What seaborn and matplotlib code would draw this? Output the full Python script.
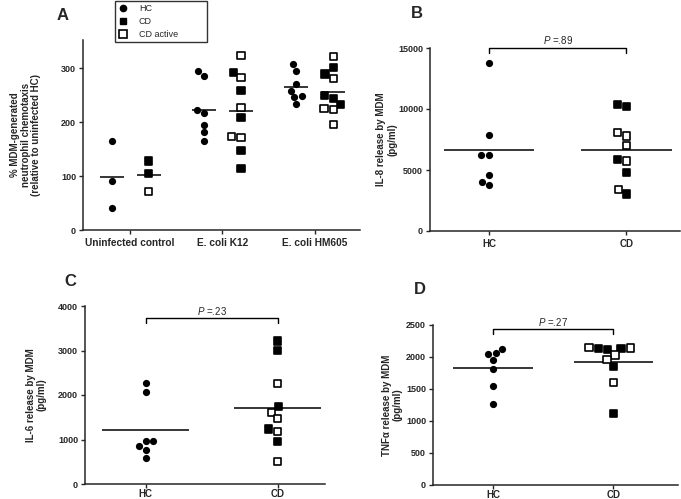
import numpy as np
import pandas as pd
import matplotlib
matplotlib.use("Agg")
import matplotlib.pyplot as plt
from matplotlib.lines import Line2D
import seaborn as sns

# ---------------- data ----------------
# Panel A: % MDM-generated neutrophil chemotaxis
conditions = ["Uninfected control", "E. coli K12", "E. coli HM605"]
a_hc = [[165, 91, 41],
        [294, 286, 222, 217, 195, 181, 164],
        [307, 295, 270, 258, 249, 246, 233]]
a_cd_filled = [[128, 104],
               [292, 259, 209, 148, 114],
               [301, 289, 249, 244, 233]]
a_cd_open = [[71],
             [323, 282, 227, 173, 172],
             [322, 281, 225, 223, 196]]

groups = ["HC", "CD"]
# Panel B: IL-8
il8_hc = [13800, 7900, 6230, 6230, 4550, 3980, 3730]
il8_cd_filled = [10340, 10200, 5870, 4770, 3040]
il8_cd_open = [8060, 7790, 6990, 5730, 3430]
# Panel C: IL-6
il6_hc = [2265, 2071, 964, 964, 845, 763, 583]
il6_cd_filled = [3215, 3006, 1742, 1234, 950]
il6_cd_open = [2265, 1615, 1465, 1174, 501]
# Panel D: TNF-alpha
tnf_hc = [2124, 2061, 2046, 1957, 1816, 1550, 1263]
tnf_cd_filled = [2135, 2135, 2114, 1853, 1117]
tnf_cd_open = [2145, 2140, 2030, 1957, 1602]

p_values = ["=.89", "=.23", "=.27"]

# ---------------- style ----------------
sns.set_style("ticks")
plt.rcParams["font.family"] = ["Liberation Sans", "DejaVu Sans"]
plt.rcParams["mathtext.fontset"] = "custom"
plt.rcParams["mathtext.rm"] = "Liberation Sans"
plt.rcParams["mathtext.it"] = "Liberation Sans:italic"
plt.rcParams["axes.linewidth"] = 1.1
plt.rcParams["xtick.major.width"] = 1.0
plt.rcParams["ytick.major.width"] = 1.0
plt.rcParams["xtick.major.size"] = 3
plt.rcParams["ytick.major.size"] = 3

fig = plt.figure(figsize=(6.81, 4.99), dpi=100)
W, H = 681, 499


def axes_px(left, right, top, bottom):
    return fig.add_axes([left / W, (H - bottom) / H, (right - left) / W, (bottom - top) / H])


palette = {"filled": "black", "open": "white"}
MS = 5.2


def style_axes(ax, ylim, yticks, ylabel, lx, ylabel_size, xpad):
    ax.set_ylim(*ylim)
    ax.set_yticks(yticks)
    ax.set_yticklabels([str(t) for t in yticks], fontsize=6.5, fontweight="bold")
    sns.despine(ax=ax)
    ax.set_xlabel("")
    ax.set_ylabel(ylabel, fontsize=ylabel_size, fontweight="bold", linespacing=1.1)
    ax.yaxis.set_label_coords(lx, 0.5)
    ax.tick_params(axis="x", pad=xpad)
    ax.tick_params(axis="y", pad=2)


# ---------------- Panel A ----------------
rows = []
for ci, cond in enumerate(conditions):
    for v in a_hc[ci]:
        rows.append((cond, ci, "HC", "filled", v))
    for v in a_cd_filled[ci]:
        rows.append((cond, ci, "CD", "filled", v))
    for v in a_cd_open[ci]:
        rows.append((cond, ci, "CD", "open", v))
dfa = pd.DataFrame(rows, columns=["condition", "cidx", "cohort", "status", "value"])
offset = {"HC": -0.2, "CD": 0.2}
dfa["xpos"] = dfa["cidx"] + dfa["cohort"].map(offset)

axA = axes_px(83, 360, 40, 230)
sns.swarmplot(data=dfa[dfa.cohort == "HC"], x="xpos", y="value", native_scale=True,
              color="black", marker="o", size=MS, linewidth=0, ax=axA)
sns.swarmplot(data=dfa[dfa.cohort == "CD"], x="xpos", y="value", native_scale=True,
              hue="status", palette=palette, hue_order=["filled", "open"],
              marker="s", size=MS, edgecolor="black", linewidth=1.2, legend=False, ax=axA)
means_a = dfa.groupby("xpos")["value"].mean()
axA.hlines(means_a.values, means_a.index - 0.13, means_a.index + 0.13, color="black", lw=1.1)
axA.set_xlim(-0.51, 2.49)
style_axes(axA, (0, 352), [0, 100, 200, 300],
           "% MDM-generated\nneutrophil chemotaxis\n(relative to uninfected HC)", -0.15, 7, 3)
axA.set_xticks(range(len(conditions)))
axA.set_xticklabels(conditions, fontsize=7.3, fontweight="bold")

handles = [Line2D([], [], marker="o", ls="none", color="black", markersize=4.5),
           Line2D([], [], marker="s", ls="none", color="black", markersize=4.3),
           Line2D([], [], marker="s", ls="none", markerfacecolor="white",
                  markeredgecolor="black", markeredgewidth=1.2, markersize=5.5)]
leg = fig.legend(handles, ["HC", "CD", "CD active"], loc="upper left",
                 bbox_to_anchor=(115 / W, 1 - 43 / H, 92 / W, 42 / H), mode="expand",
                 frameon=True, fancybox=False,
                 fontsize=6.5, handletextpad=1.3, borderpad=0.35, labelspacing=0.45,
                 handlelength=1.0, borderaxespad=0)
leg.get_frame().set_edgecolor("black")
leg.get_frame().set_linewidth(1.0)


# ---------------- Panels B-D ----------------
def two_group_panel(box, hc, cd_f, cd_o, ylim, yticks, ylabel, lx, xlim, bracket_y, tick_drop, ptxt, xpad):
    rows = [("HC", "filled", v) for v in hc] + \
           [("CD", "filled", v) for v in cd_f] + \
           [("CD", "open", v) for v in cd_o]
    df = pd.DataFrame(rows, columns=["group", "status", "value"])
    ax = axes_px(*box)
    sns.swarmplot(data=df[df.group == "HC"], x="group", y="value", order=groups,
                  color="black", marker="o", size=MS, linewidth=0, ax=ax)
    sns.swarmplot(data=df[df.group == "CD"], x="group", y="value", order=groups,
                  hue="status", palette=palette, hue_order=["filled", "open"],
                  marker="s", size=MS, edgecolor="black", linewidth=1.2, legend=False, ax=ax)
    means = df.groupby("group")["value"].mean().reindex(groups)
    xs = np.arange(len(groups))
    ax.hlines(means.values, xs - 0.33, xs + 0.33, color="black", lw=1.1)
    ax.set_xlim(*xlim)
    style_axes(ax, ylim, yticks, ylabel, lx, 7, xpad)
    ax.set_xticks(xs)
    ax.set_xticklabels(groups, fontsize=7, fontweight="bold")
    ax.plot([0, 0, 1, 1], [bracket_y - tick_drop, bracket_y, bracket_y, bracket_y - tick_drop],
            color="black", lw=1.0, clip_on=False)
    ax.text(0.5, bracket_y + tick_drop * 0.4, "$P$ " + ptxt, ha="center", va="bottom",
            fontsize=7, clip_on=False)
    return ax


two_group_panel((430, 680, 48, 231), il8_hc, il8_cd_filled, il8_cd_open,
                (0, 15000), [0, 5000, 10000, 15000],
                "IL-8 release by MDM\n(pg/ml)", -0.132, (-0.43, 1.39), 15000, 450, p_values[0], 3)
two_group_panel((85, 325, 306, 484), il6_hc, il6_cd_filled, il6_cd_open,
                (0, 4000), [0, 1000, 2000, 3000, 4000],
                "IL-6 release by MDM\n(pg/ml)", -0.16, (-0.46, 1.36), 3720, 100, p_values[1], 0.5)
two_group_panel((433, 678, 325, 485), tnf_hc, tnf_cd_filled, tnf_cd_open,
                (0, 2500), [0, 500, 1000, 1500, 2000, 2500],
                "TNFα release by MDM\n(pg/ml)", -0.125, (-0.5, 1.54), 2430, 70, p_values[2], 0.5)

# panel letters
for letter, (px, py) in {"A": (63, 15), "B": (417, 13), "C": (70, 282), "D": (420, 289)}.items():
    fig.text(px / W, 1 - py / H, letter, fontsize=12, fontweight="bold", ha="center", va="center")

fig.savefig("out.png", dpi=100)
